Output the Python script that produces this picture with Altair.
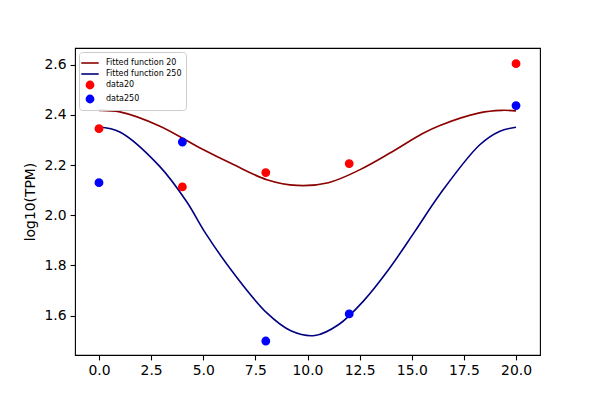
import altair as alt
import pandas as pd

# Fitted curves
fit20_x = [0, 1.0, 2.9, 4.85, 6.45, 8.05, 9.5, 11.0, 12.5, 14.0, 15.5, 16.35, 18.25, 19.3, 20]
fit20_y = [2.418, 2.412, 2.356, 2.268, 2.202, 2.142, 2.119, 2.130, 2.181, 2.250, 2.325, 2.358, 2.408, 2.418, 2.416]
fit250_x = [0, 1.0, 2.9, 4.2, 5.1, 6.45, 8.05, 9.2, 10.35, 11.5, 12.7, 13.9, 15.15, 16.35, 18.25, 19.2, 20]
fit250_y = [2.352, 2.332, 2.196, 2.055, 1.930, 1.770, 1.611, 1.540, 1.521, 1.565, 1.660, 1.785, 1.936, 2.084, 2.280, 2.334, 2.351]

# Measured data points
data_x = [0, 4, 8, 12, 20]
data20_y = [2.345, 2.113, 2.170, 2.206, 2.604]
data250_y = [2.130, 2.292, 1.499, 1.607, 2.437]

series_names = ["Fitted function 20", "Fitted function 250", "data20", "data250"]
series_colors = ["#8b0000", "#000080", "#ff0000", "#0000ff"]

x_ticks = [0, 2.5, 5, 7.5, 10, 12.5, 15, 17.5, 20]
y_ticks = [1.6, 1.8, 2.0, 2.2, 2.4, 2.6]

LINE_SYM = "M-1.45,0H1.45"
CIRC_SYM = "M-0.6,0A0.6,0.6 0 1,0 0.6,0A0.6,0.6 0 1,0 -0.6,0Z"
series_shapes = [LINE_SYM, LINE_SYM, CIRC_SYM, CIRC_SYM]

lines_df = pd.concat([
    pd.DataFrame({"x": fit20_x, "y": fit20_y, "series": series_names[0]}),
    pd.DataFrame({"x": fit250_x, "y": fit250_y, "series": series_names[1]}),
])
pts_df = pd.concat([
    pd.DataFrame({"x": data_x, "y": data20_y, "series": series_names[2]}),
    pd.DataFrame({"x": data_x, "y": data250_y, "series": series_names[3]}),
])

x_scale = alt.Scale(domain=[-1.15, 21.15], nice=False, zero=False)
y_scale = alt.Scale(domain=[1.4434, 2.6665], nice=False, zero=False)
col_scale = alt.Scale(domain=series_names, range=series_colors)
shape_scale = alt.Scale(domain=series_names, range=series_shapes)

x_enc = alt.X("x:Q", scale=x_scale, axis=alt.Axis(values=x_ticks, format=".1f", title=None))
y_enc = alt.Y("y:Q", scale=y_scale, axis=alt.Axis(values=y_ticks, format=".1f", title="log10(TPM)"))

legend = alt.Legend(
    title=None,
    orient="top-left",
    offset=4,
    padding=4,
    rowPadding=-0.5,
    labelOffset=9,
    labelFont="DejaVu Sans",
    labelFontSize=8,
    labelColor="black",
    symbolSize=144,
    symbolStrokeWidth=1.6,
    strokeColor="#cccccc",
    fillColor="rgba(255,255,255,0.8)",
    cornerRadius=3,
)

lines = alt.Chart(lines_df).mark_line(strokeWidth=1.6, interpolate="catmull-rom").encode(
    x=x_enc,
    y=y_enc,
    stroke=alt.Stroke("series:N", scale=col_scale, legend=legend),
)

points = alt.Chart(pts_df).mark_point(filled=True, size=150, strokeWidth=1.5, opacity=1).encode(
    x=x_enc,
    y=y_enc,
    fill=alt.Fill("series:N", scale=col_scale, legend=legend),
    stroke=alt.Stroke("series:N", scale=col_scale, legend=legend),
    shape=alt.Shape("series:N", scale=shape_scale, legend=legend),
)

chart = alt.layer(lines, points).properties(
    width=465,
    height=307,
    autosize=alt.AutoSizeParams(type="none"),
    padding={"left": 67, "top": 40, "right": 52, "bottom": 37},
    background="white",
).configure_view(
    stroke="black",
    strokeWidth=1.1,
).configure_axis(
    grid=False,
    domain=False,
    ticks=True,
    tickColor="black",
    tickWidth=1.1,
    tickSize=4.9,
    labelPadding=4,
    labelFont="DejaVu Sans",
    labelFontSize=13.9,
    labelColor="black",
    titleFont="DejaVu Sans",
    titleFontSize=13.9,
    titleFontWeight="normal",
    titleColor="black",
    titlePadding=7,
).configure_axisX(
    labelFlush=False,
).configure_axisY(
    labelFlush=False,
)

chart.save("out.html", embed_options={"renderer": "svg", "actions": False})
